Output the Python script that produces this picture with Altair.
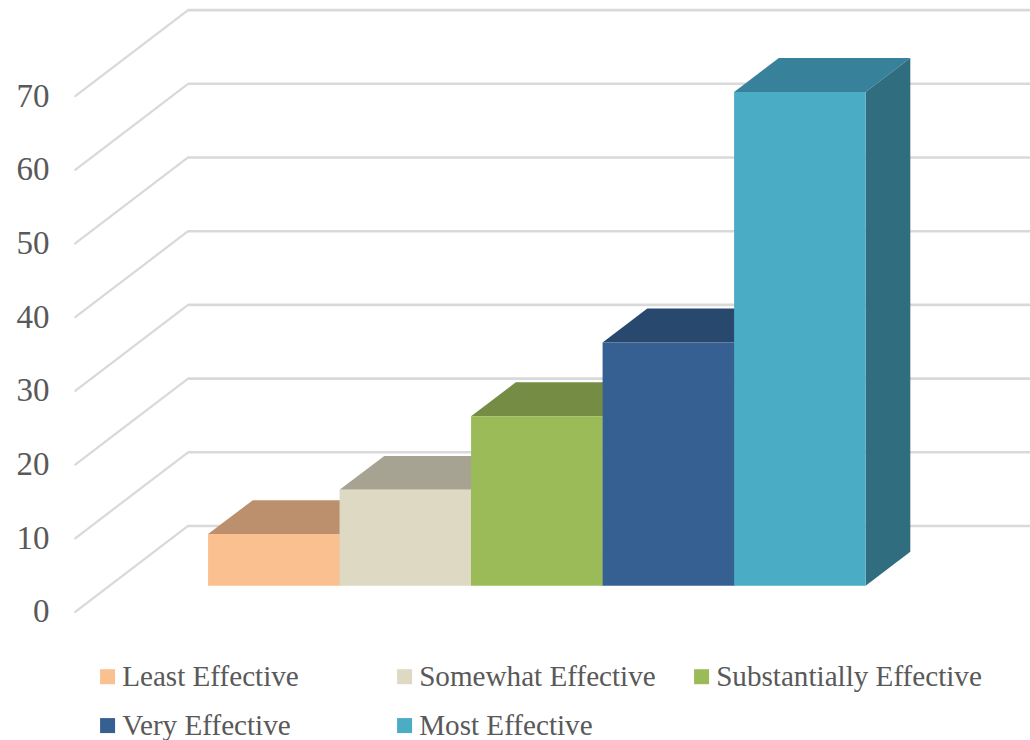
import altair as alt
import pandas as pd

# Series shown as bars, in drawing order
categories = ["Least Effective", "Somewhat Effective", "Substantially Effective",
              "Very Effective", "Most Effective"]
values = [7, 13, 23, 33, 67]
front_colors = ["#FAC090", "#DDD9C3", "#9BBB59", "#366092", "#4BACC6"]
top_colors = ["#BC906C", "#A6A392", "#748C43", "#28486E", "#38819A"]
side_colors = ["#A07B5C", "#8D8B7D", "#637839", "#233E5E", "#306E7F"]
tick_values = [0, 10, 20, 30, 40, 50, 60, 70]

# Projection of the pseudo-3D box, in x units of one bar width and y units of the value axis
WALL_FRONT_X = -1.01
WALL_BACK_X = -0.152
WALL_END_X = 6.25
WALL_LIFT = 11.67
BAR_DEPTH_X = 0.34
BAR_DEPTH_Y = 4.6
BAR_FLOOR = 3.57

FONT = "Liberation Serif"
TEXT = "#595959"
GRID = "#D9D9D9"

x_scale = alt.Scale(domain=[-1.582, 6.25], range=[0, 1030], nice=False, zero=False)
y_scale = alt.Scale(domain=[-17.37, 83.04], range=[740, 0], nice=False, zero=False)
y_axis = alt.Axis(
    values=tick_values, title=None, domain=False, ticks=False, grid=False,
    orient="left", offset=-55, labelPadding=6, labelFont=FONT, labelFontSize=33,
    labelColor=TEXT, labelBaseline="middle", labelFlush=False, labelOverlap=False,
)

# Floor and side wall lines
diagonals = pd.DataFrame({
    "x": [WALL_FRONT_X] * len(tick_values),
    "x2": [WALL_BACK_X] * len(tick_values),
    "y": tick_values,
    "y2": [v + WALL_LIFT for v in tick_values],
})
back_lines = pd.DataFrame({
    "x": [WALL_BACK_X] * len(tick_values),
    "x2": [WALL_END_X] * len(tick_values),
    "y": [v + WALL_LIFT for v in tick_values],
})

diagonal_rules = alt.Chart(diagonals).mark_rule(color=GRID, strokeWidth=2.2, strokeCap="round").encode(
    x=alt.X("x:Q", scale=x_scale, axis=None),
    x2="x2:Q",
    y=alt.Y("y:Q", scale=y_scale, axis=y_axis),
    y2="y2:Q",
)
back_rules = alt.Chart(back_lines).mark_rule(color=GRID, strokeWidth=2.6).encode(
    x=alt.X("x:Q", scale=x_scale, axis=None),
    x2="x2:Q",
    y=alt.Y("y:Q", scale=y_scale, axis=y_axis),
)

# Bar faces are computed from the values through the projection above
front_rows, top_rows, side_rows = [], [], []
for i, (name, v) in enumerate(zip(categories, values)):
    left, right = i, i + 1
    base, top = BAR_FLOOR, BAR_FLOOR + v
    front_rows.append({"name": name, "x": left, "x2": right, "y": base, "y2": top})
    for x, lo, hi in [
        (left, top, top),
        (left + BAR_DEPTH_X, top, top + BAR_DEPTH_Y),
        (right, top, top + BAR_DEPTH_Y),
        (right + BAR_DEPTH_X, top + BAR_DEPTH_Y, top + BAR_DEPTH_Y),
    ]:
        top_rows.append({"name": name, "shade": top_colors[i], "x": x, "y": lo, "y2": hi})
    for x, lo, hi in [
        (right, base, top),
        (right + BAR_DEPTH_X, base + BAR_DEPTH_Y, top + BAR_DEPTH_Y),
    ]:
        side_rows.append({"name": name, "shade": side_colors[i], "x": x, "y": lo, "y2": hi})


def face(rows):
    return alt.Chart(pd.DataFrame(rows)).mark_area(orient="vertical", interpolate="linear").encode(
        x=alt.X("x:Q", scale=x_scale, axis=None),
        y=alt.Y("y:Q", scale=y_scale, axis=y_axis, stack=None),
        y2="y2:Q",
        fill=alt.Fill("shade:N", scale=None, legend=None),
        detail="name:N",
    )


fronts = alt.Chart(pd.DataFrame(front_rows)).mark_rect().encode(
    x=alt.X("x:Q", scale=x_scale, axis=None),
    x2="x2:Q",
    y=alt.Y("y:Q", scale=y_scale, axis=y_axis),
    y2="y2:Q",
    color=alt.Color("name:N",
                    scale=alt.Scale(domain=categories, range=front_colors),
                    sort=categories,
                    legend=alt.Legend(
                        title=None, orient="none", legendX=91, legendY=662, columns=3,
                        direction="horizontal", gridAlign="all", columnPadding=0, rowPadding=19,
                        symbolType="square", symbolSize=225, symbolStrokeWidth=0, symbolOffset=2,
                        labelFont=FONT, labelFontSize=29.15, labelColor=TEXT, labelOffset=0,
                        labelLimit=400,
                    )),
)

chart = alt.layer(diagonal_rules, back_rules, face(top_rows), face(side_rows), fronts).properties(
    width=1030,
    height=740,
    padding=0,
    autosize=alt.AutoSizeParams(type="none"),
).configure_view(stroke=None)

chart.save("out.html", embed_options={"renderer": "svg", "actions": False})
